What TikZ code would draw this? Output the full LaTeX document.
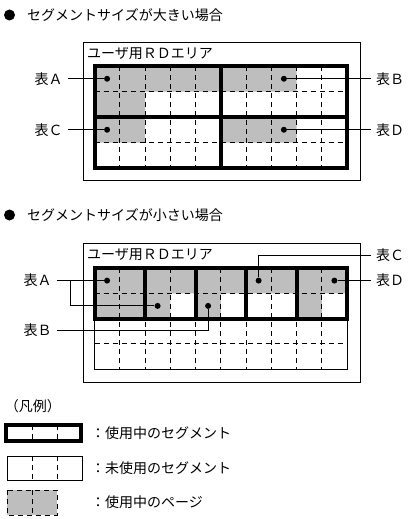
\documentclass[tikz,border=0pt]{standalone}
\usepackage{fontspec}
\newfontfamily\jpfont{Noto Sans CJK JP}
\usetikzlibrary{positioning}
\definecolor{pagegray}{RGB}{190,190,190}

\begin{document}
\begin{tikzpicture}[x=1pt, y=-1pt,
  txt/.style={font=\jpfont\fontsize{14}{16}\selectfont, inner sep=0pt},
  lbl/.style={txt, inner sep=5pt},
  dot/.style={circle, fill=black, inner sep=0pt, minimum size=6pt},
  bullet/.style={circle, fill=black, inner sep=0pt, minimum size=11pt},
  area/.style={draw=black, line width=0.9pt},
  seg/.style={draw=black, line width=4pt},
  page/.style={draw=black, line width=0.9pt, dash pattern=on 5pt off 4pt},
  lead/.style={draw=black, line width=0.9pt}
]
  \useasboundingbox (0,0) rectangle (409,519);

  % large segments
  \node[bullet] (bulL) at (9.5,15) {};
  \node[txt, anchor=west] (ttlL) at (27,15.5) {セグメントサイズが大きい場合};
  \draw[area] (83,42) rectangle (360,180);
  \node[txt, anchor=west] (rdL) at (87,54) {ユーザ用ＲＤエリア};
  \fill[pagegray] (94.5,66) rectangle (296.5,91.5)
                  (94.5,91.5) rectangle (145,142.5)
                  (220.75,117) rectangle (296.5,142.5);
  \foreach \i in {1,...,9}
    \draw[page] ({94.5+25.25*\i},66) -- ({94.5+25.25*\i},168);
  \foreach \y in {91.5,142.5}
    \draw[page] (94.5,\y) -- (347,\y);
  \draw[seg] (94.5,66) rectangle (347,168);
  \draw[seg] (220.75,66) -- (220.75,168) (94.5,117) -- (347,117);

  \node[dot] (dA1) at (107.1,78.75) {};
  \node[dot] (dB1) at (283.9,78.75) {};
  \node[dot] (dC1) at (107.1,129.75) {};
  \node[dot] (dD1) at (283.9,129.75) {};
  \node[lbl] (tA1) at (48.5,78.75) {表Ａ};
  \node[lbl] (tB1) at (390,78.75) {表Ｂ};
  \node[lbl] (tC1) at (48.5,129.75) {表Ｃ};
  \node[lbl] (tD1) at (390,129.75) {表Ｄ};
  \foreach \from/\to in {tA1/dA1, tB1/dB1, tC1/dC1, tD1/dD1}
    \draw[lead] (\from) -- (\to);

  % small segments
  \node[bullet] (bulS) at (9.5,215) {};
  \node[txt, anchor=west] (ttlS) at (27,215.5) {セグメントサイズが小さい場合};
  \draw[area] (83,243) rectangle (360,382);
  \node[txt, anchor=west] (rdS) at (87,255) {ユーザ用ＲＤエリア};
  \fill[pagegray] (94.5,268) rectangle (347,293.25)
                  (94.5,293.25) rectangle (170.25,318.5)
                  (195.5,293.25) rectangle (220.75,318.5)
                  (296.5,293.25) rectangle (321.75,318.5);
  \foreach \i in {1,...,9}
    \draw[page] ({94.5+25.25*\i},268) -- ({94.5+25.25*\i},369);
  \foreach \y in {293.25,343.75}
    \draw[page] (94.5,\y) -- (347,\y);
  \draw[area] (94.5,268) rectangle (347,369);
  \foreach \i in {0,...,4}
    \draw[seg] ({94.5+50.5*\i},268) rectangle ({145+50.5*\i},318.5);

  \node[dot] (dA2) at (107.1,280.6) {};
  \node[dot] (dA3) at (157.6,305.9) {};
  \node[dot] (dB2) at (208.1,305.9) {};
  \node[dot] (dC2) at (258.6,280.6) {};
  \node[dot] (dD2) at (334.4,280.6) {};
  \node[lbl] (tA2) at (37.5,280.6) {表Ａ};
  \node[lbl] (tB2) at (37.5,330) {表Ｂ};
  \node[lbl] (tC2) at (390,255) {表Ｃ};
  \node[lbl] (tD2) at (390,280.6) {表Ｄ};
  \coordinate (jA2) at (70,280.6);
  \draw[lead] (tA2) -- (dA2);
  \draw[lead] (jA2) |- (dA3);
  \draw[lead] (tB2) -| (dB2);
  \draw[lead] (tC2) -| (dC2);
  \draw[lead] (tD2) -- (dD2);

  % legend
  \node[txt] (legT) at (33,406) {（凡例）};
  \draw[seg] (6,425) rectangle (81,441);
  \draw[page] (32,425) -- (32,441) (57,425) -- (57,441);
  \draw[area] (7,456) rectangle (82,480);
  \draw[page] (32,456) -- (32,480) (57,456) -- (57,480);
  \fill[pagegray] (7,490) rectangle (57,515);
  \draw[page] (7,490) rectangle (57,515) (32,490) -- (32,515);
  \node[txt, anchor=west] (legUsed) at (91,433) {：使用中のセグメント};
  \node[txt, anchor=west] (legFree) at (91,468) {：未使用のセグメント};
  \node[txt, anchor=west] (legPage) at (91,502) {：使用中のページ};
\end{tikzpicture}
\end{document}
